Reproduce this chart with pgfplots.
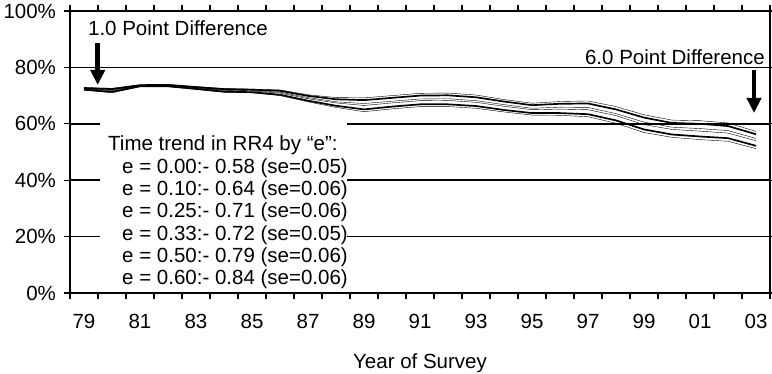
\documentclass[border=0pt]{standalone}
\usepackage{pgfplots}
\pgfplotsset{compat=1.18}
\usepackage{fontspec}
\setmainfont{Liberation Sans}
\usetikzlibrary{arrows.meta}
\begin{document}
\fontsize{20.5bp}{22.2bp}\selectfont
\begin{tikzpicture}
\useasboundingbox (-70bp,-81bp) rectangle (702bp,293bp);
\begin{axis}[
  at={(0,0)}, anchor=south west,
  scale only axis, width=700bp, height=282bp,
  xmin=1978.5, xmax=2003.5, ymin=0, ymax=100,
  axis line style={line width=1.5bp, black},
  clip=false,
  xtick={1978.5,1979.5,...,2003.5},
  xticklabels={},
  extra x ticks={1979,1981,...,2003},
  extra x tick labels={79,81,83,85,87,89,91,93,95,97,99,01,03},
  extra x tick style={major tick length=0pt, grid=none},
  x tick label style={anchor=north, yshift=-14bp},
  ytick={0,20,40,60,80,100},
  yticklabels={0\%,20\%,40\%,60\%,80\%,100\%},
  ymajorgrids,
  major grid style={line width=1.5bp, black},
  tick align=outside,
  major tick length=6bp,
  tick style={line width=1.3bp, black},
  y tick label style={anchor=east, xshift=-1bp},
  xlabel={Year of Survey},
  xlabel style={at={(axis description cs:0.5,0)}, anchor=base, yshift=-75bp, inner sep=0pt},
  cycle list={{black, line width=1.7bp, no marks}},
]
\fill[white] (axis cs:1979.57,1.0) rectangle (axis cs:1988.4,61.6);
% e = 0.00
\addplot coordinates {(1979,72.8)(1980,72.6)(1981,73.8)(1982,73.9)(1983,73.2)(1984,72.5)(1985,72.3)(1986,72.0)(1987,70.3)(1988,69.3)(1989,69.2)(1990,70.0)(1991,70.8)(1992,70.9)(1993,70.2)(1994,68.6)(1995,67.3)(1996,67.9)(1997,68.1)(1998,66.1)(1999,63.2)(2000,61.3)(2001,61.1)(2002,60.3)(2003,57.3)};
% e = 0.10
\addplot coordinates {(1979,72.7)(1980,72.3)(1981,73.7)(1982,73.8)(1983,73.0)(1984,72.3)(1985,72.1)(1986,71.7)(1987,69.9)(1988,68.7)(1989,68.4)(1990,69.2)(1991,70.0)(1992,70.1)(1993,69.4)(1994,67.9)(1995,66.6)(1996,67.1)(1997,67.2)(1998,65.1)(1999,62.2)(2000,60.3)(2001,60.0)(2002,59.2)(2003,56.3)};
% e = 0.25
\addplot coordinates {(1979,72.5)(1980,71.9)(1981,73.5)(1982,73.6)(1983,72.8)(1984,72.0)(1985,71.8)(1986,71.2)(1987,69.3)(1988,67.8)(1989,67.2)(1990,68.0)(1991,68.8)(1992,68.9)(1993,68.2)(1994,66.8)(1995,65.5)(1996,65.9)(1997,65.8)(1998,63.6)(1999,60.6)(2000,58.8)(2001,58.3)(2002,57.6)(2003,54.8)};
% e = 0.33
\addplot coordinates {(1979,72.4)(1980,71.7)(1981,73.5)(1982,73.5)(1983,72.6)(1984,71.8)(1985,71.6)(1986,70.9)(1987,68.9)(1988,67.4)(1989,66.5)(1990,67.4)(1991,68.2)(1992,68.3)(1993,67.6)(1994,66.2)(1995,65.0)(1996,65.2)(1997,65.0)(1998,62.9)(1999,59.7)(2000,58.0)(2001,57.4)(2002,56.7)(2003,54.0)};
% e = 0.50
\addplot coordinates {(1979,72.1)(1980,71.3)(1981,73.3)(1982,73.3)(1983,72.4)(1984,71.4)(1985,71.2)(1986,70.3)(1987,68.2)(1988,66.4)(1989,65.1)(1990,66.1)(1991,66.9)(1992,66.9)(1993,66.3)(1994,64.9)(1995,63.8)(1996,63.8)(1997,63.4)(1998,61.2)(1999,58.0)(2000,56.2)(2001,55.5)(2002,54.9)(2003,52.2)};
% e = 0.60
\addplot coordinates {(1979,72.0)(1980,71.0)(1981,73.2)(1982,73.2)(1983,72.2)(1984,71.2)(1985,71.0)(1986,70.0)(1987,67.8)(1988,65.8)(1989,64.3)(1990,65.3)(1991,66.1)(1992,66.1)(1993,65.5)(1994,64.2)(1995,63.1)(1996,63.0)(1997,62.5)(1998,60.2)(1999,56.9)(2000,55.2)(2001,54.4)(2002,53.8)(2003,51.2)};
% text box
\node[anchor=base west, inner sep=0pt] at (axis cs:1979.857,50.36) {Time trend in RR4 by “e”:};
\node[anchor=base west, inner sep=0pt] at (axis cs:1980.357,42.38) {e = 0.00:- 0.58 (se=0.05)};
\node[anchor=base west, inner sep=0pt] at (axis cs:1980.357,34.51) {e = 0.10:- 0.64 (se=0.06)};
\node[anchor=base west, inner sep=0pt] at (axis cs:1980.357,26.63) {e = 0.25:- 0.71 (se=0.06)};
\node[anchor=base west, inner sep=0pt] at (axis cs:1980.357,18.76) {e = 0.33:- 0.72 (se=0.05)};
\node[anchor=base west, inner sep=0pt] at (axis cs:1980.357,10.89) {e = 0.50:- 0.79 (se=0.06)};
\node[anchor=base west, inner sep=0pt] at (axis cs:1980.357,3.02) {e = 0.60:- 0.84 (se=0.06)};
% annotations
\node[anchor=base west, inner sep=0pt] at (axis cs:1979.14,91.2) {1.0 Point Difference};
\node[anchor=base east, inner sep=0pt] at (axis cs:2003.32,80.9) {6.0 Point Difference};
\draw[line width=4.5bp, -{Triangle[width=14bp,length=15bp]}] (axis cs:1979.49,88.65) -- (axis cs:1979.49,73.76);
\draw[line width=4.5bp, -{Triangle[width=14bp,length=15bp]}] (axis cs:2002.93,79.08) -- (axis cs:2002.93,63.83);
\end{axis}
\end{tikzpicture}
\end{document}
